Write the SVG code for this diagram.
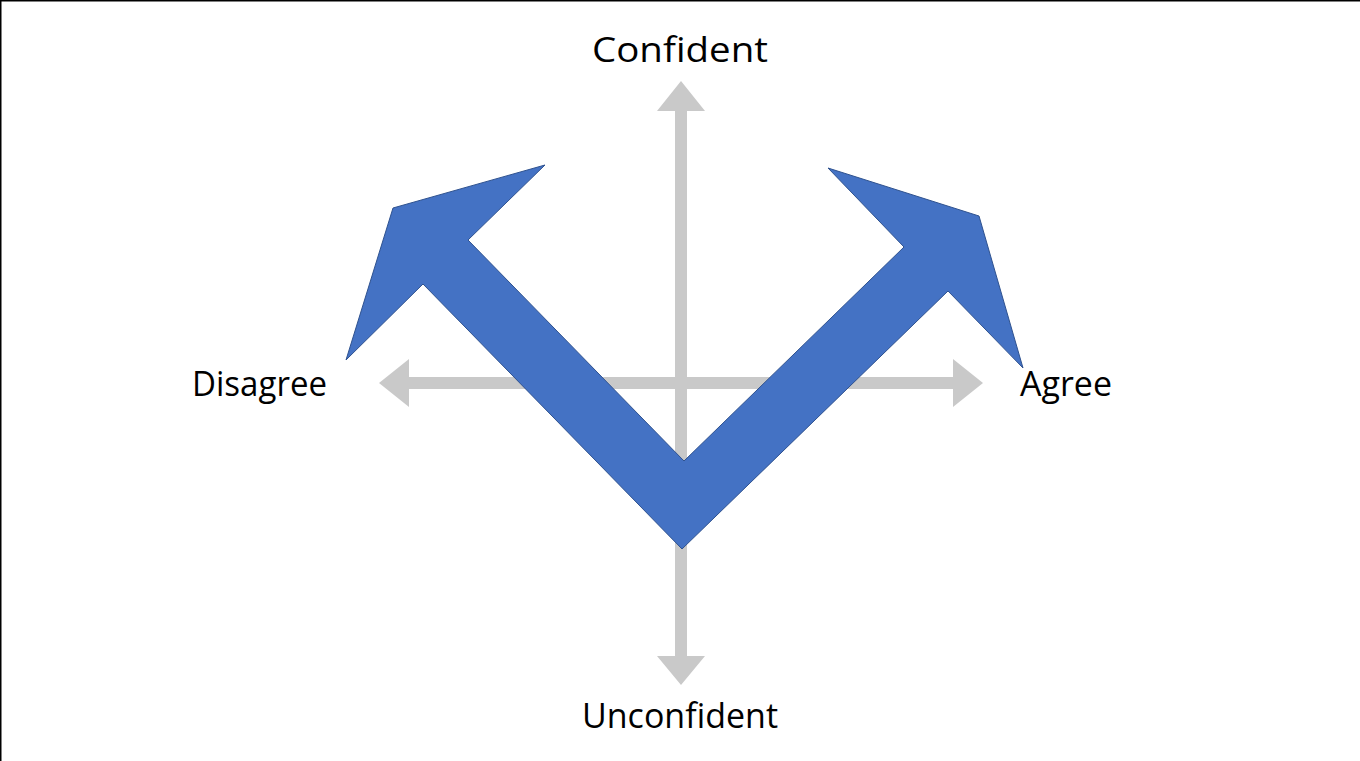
<svg xmlns="http://www.w3.org/2000/svg" width="1360" height="761" viewBox="0 0 1360 761">
<style>
.lbl{font-family:"Open Sans","Liberation Sans",sans-serif;font-size:34px;fill:#000}
.axis{fill:#C9C9C9}
.v{fill:#4472C4;stroke:#2F528F;stroke-width:1}
</style>
<rect x="0" y="0" width="1360" height="761" fill="#fff"/>
<path d="M0.75,761 V0.75 H1360" fill="none" stroke="#000" stroke-width="1.5"/>
<g id="connectors">
<polygon class="axis" points="681,81 705,111 687,111 687,656 705,656 681,685 657,656 675,656 675,111 657,111"/>
<polygon class="axis" points="379,383 409,359 409,377 953,377 953,359 983,383 953,407 953,389 409,389 409,407"/>
</g>
<g id="v-arrow">
<polygon class="v" points="682,549 423,284 346,360 393,208 545,165 468,240 684,461 904,247 828,168 979,216 1023,368 948,291"/>
</g>
<g id="confident"><text class="lbl" x="592" y="62" textLength="176" lengthAdjust="spacingAndGlyphs">Confident</text></g>
<g id="unconfident"><text class="lbl" x="582" y="728" textLength="196" lengthAdjust="spacingAndGlyphs">Unconfident</text></g>
<g id="disagree"><text class="lbl" x="192" y="396" textLength="135" lengthAdjust="spacingAndGlyphs">Disagree</text></g>
<g id="agree"><text class="lbl" x="1020" y="396" textLength="92" lengthAdjust="spacingAndGlyphs">Agree</text></g>
</svg>
